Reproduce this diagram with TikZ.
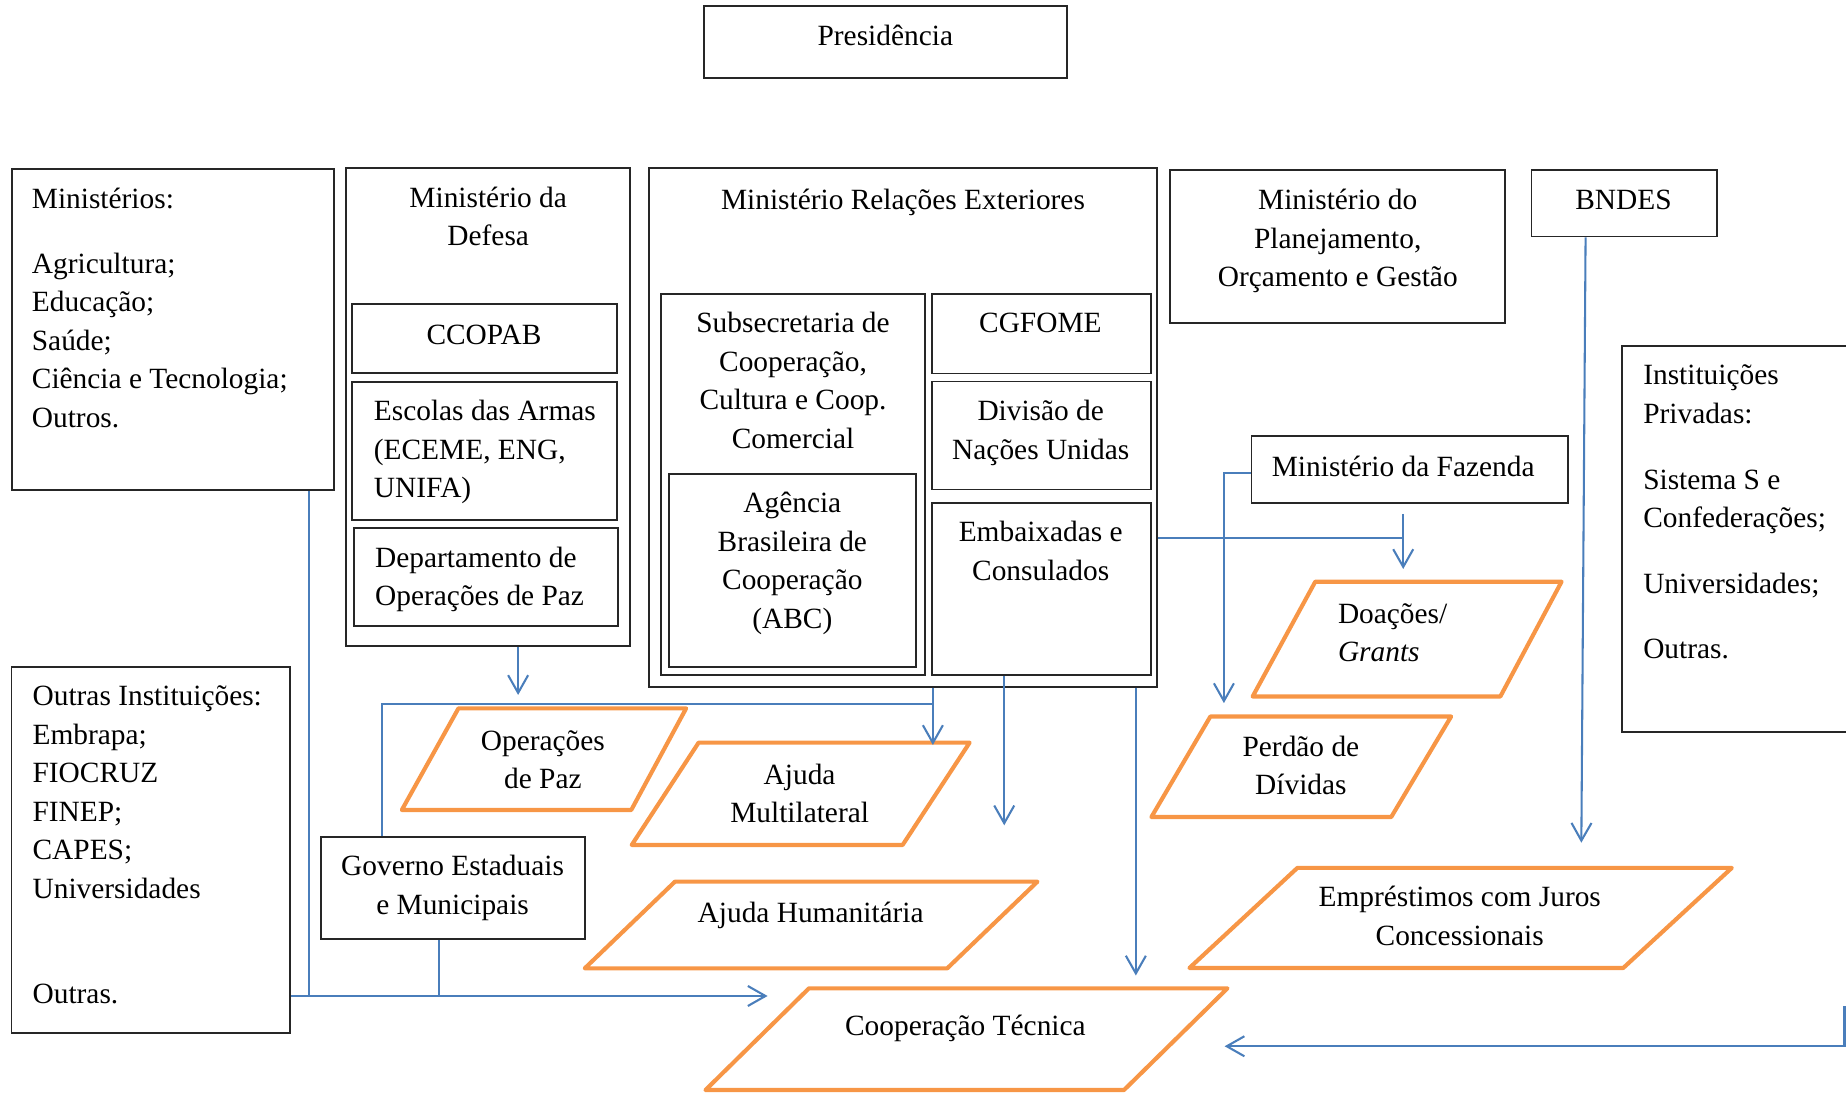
\documentclass[tikz,border=0pt]{standalone}
\usepackage{fontspec}
\setmainfont{Liberation Serif}
\usetikzlibrary{arrows.meta,fit}
\definecolor{lnblue}{HTML}{4A7EBB}
\definecolor{orng}{HTML}{F79646}
\newcommand{\tcen}[1]{\begin{tabular}[t]{@{}c@{}}#1\end{tabular}}
\newcommand{\tlft}[1]{\begin{tabular}[t]{@{}l@{}}#1\end{tabular}}
\begin{document}
\begin{tikzpicture}[x=0.1mm,y=-0.1mm,
  box/.style={draw=black!85, line width=0.45pt, inner sep=0pt},
  conn/.style={draw=lnblue, line width=0.5pt},
  arr/.style={conn, -{Straight Barb[length=1.5mm,width=1.7mm]}},
  pgram/.style={draw=orng, line width=1pt, line join=round},
  tc/.style={anchor=base, inner sep=0pt, yshift=-0.2mm, font=\fontsize{7.1}{9.3}\selectfont},
  tl/.style={tc, anchor=base west}]
\useasboundingbox (0,0) rectangle (1568,929);
\clip (0,0) rectangle (1568,929);

% ---------- boxes ----------
\node[box, fit={(598,5) (906,66)}] (pres) {};
\node[box, fit={(9.9,143.8) (284,416.2)}] (min) {};
\node[box, fit={(294,143) (535,549)}] (def) {};
\node[box, fit={(299.3,258) (524,317)}] (ccopab) {};
\node[box, fit={(299.3,324.6) (524,441.7)}] (esc) {};
\node[box, fit={(300.4,448.6) (524.7,531.4)}] (dep) {};
\node[box, fit={(551.3,142.9) (982.7,583.2)}] (mre) {};
\node[box, fit={(561.8,249.6) (785.7,573.4)}] (sub) {};
\node[box, fit={(567.9,402.4) (777.8,566.9)}] (abc) {};
\node[box, fit={(791.5,249.6) (977.4,317.2)}] (cgf) {};
\node[box, fit={(791.5,324) (977.4,415.8)}] (dnu) {};
\node[box, fit={(791.5,427.4) (977.4,573.4)}] (emb) {};
\node[box, fit={(993.8,144.3) (1278.4,274.4)}] (plan) {};
\node[box, fit={(1300.8,144.3) (1458.4,200.9)}] (bndes) {};
\node[box, fit={(1378,293.9) (1620,621.5)}] (ipriv) {};
\node[box, fit={(1063,370.6) (1331.6,427.2)}] (faz) {};
\node[box, fit={(9.8,566.8) (246.4,877.7)}] (outras) {};
\node[box, fit={(272.4,710.7) (496.7,797.6)}] (gov) {};

% ---------- box texts ----------
\node[tc] (presT) at (752,37) {Presidência};
\node[tl] (minT) at (26.4,175.5) {\tlft{Ministérios:\\[2.2mm] Agricultura;\\ Educação;\\ Saúde;\\ Ciência e Tecnologia;\\ Outros.}};
\node[tc] (defT) at (414.7,174.1) {\tcen{Ministério da\\ Defesa}};
\node[tc] (ccopabT) at (411.1,290.2) {CCOPAB};
\node[tl] (escT) at (316.9,355.3) {\tlft{Escolas das Armas\\ (ECEME, ENG,\\ UNIFA)}};
\node[tl] (depT) at (318,479.9) {\tlft{Departamento de\\ Operações de Paz}};
\node[tc] (mreT) at (767,175.7) {Ministério Relações Exteriores};
\node[tc] (subT) at (673.6,280.8) {\tcen{Subsecretaria de\\ Cooperação,\\ Cultura e Coop.\\ Comercial}};
\node[tc] (abcT) at (673,433.7) {\tcen{Agência\\ Brasileira de\\ Cooperação\\ (ABC)}};
\node[tc] (cgfT) at (883.7,280.8) {CGFOME};
\node[tc] (dnuT) at (884,355.3) {\tcen{Divisão de\\ Nações Unidas}};
\node[tc] (embT) at (884,458) {\tcen{Embaixadas e\\ Consulados}};
\node[tc] (planT) at (1136.3,176.2) {\tcen{Ministério do\\ Planejamento,\\ Orçamento e Gestão}};
\node[tc] (bndesT) at (1379,176.2) {BNDES};
\node[tl] (iprivT) at (1395.1,325) {\tlft{Instituições\\ Privadas:\\[2.3mm] Sistema S e\\ Confederações;\\[2.3mm] Universidades;\\[2.3mm] Outras.}};
\node[tc] (fazT) at (1191.9,403) {Ministério da Fazenda};
\node[tl] (outrasT) at (27,597.4) {\tlft{Outras Instituições:\\ Embrapa;\\ FIOCRUZ\\ FINEP;\\ CAPES;\\ Universidades\\[5.7mm] Outras.}};
\node[tc] (govT) at (384.4,741.8) {\tcen{Governo Estaduais\\ e Municipais}};

% ---------- parallelograms ----------
\draw[pgram] (389.4,601.7) -- (582.8,601.7) -- (536.2,688) -- (341.3,688) -- cycle;
\node[tc] (opazT) at (461.1,635.1) {\tcen{Operações\\ de Paz}};
\draw[pgram] (593.4,630.8) -- (823.6,630.8) -- (766.7,717.7) -- (536.6,717.7) -- cycle;
\node[tc] (multT) at (679.2,664) {\tcen{Ajuda\\ Multilateral}};
\draw[pgram] (573.3,748.9) -- (881.2,748.9) -- (804.6,822.5) -- (496.7,822.5) -- cycle;
\node[tc] (humT) at (688.6,781.4) {Ajuda Humanitária};
\draw[pgram] (687.1,839.5) -- (1042.6,839.5) -- (954.7,925.9) -- (599.2,925.9) -- cycle;
\node[tc] (coopT) at (820,877.7) {Cooperação Técnica};
\draw[pgram] (1117.2,494.1) -- (1326.4,494.1) -- (1274.4,591.6) -- (1064,591.6) -- cycle;
\node[tl] (doaT) at (1135.8,527.2) {\tlft{Doações/\\ \textit{Grants}}};
\draw[pgram] (1028.1,608.6) -- (1232.6,608.6) -- (1181.7,694) -- (978,694) -- cycle;
\node[tc] (perT) at (1105,640.5) {\tcen{Perdão de\\ Dívidas}};
\draw[pgram] (1102,737.2) -- (1471,737.2) -- (1378.8,822.2) -- (1010.3,822.2) -- cycle;
\node[tc] (empT) at (1239.9,768.4) {\tcen{Empréstimos com Juros\\ Concessionais}};

% ---------- helper coordinates ----------
\coordinate (yBot) at (0,846);
\coordinate (tipCoopL) at (652,846);
\coordinate (xMin) at (262.3,0);
\coordinate (xGov) at (373.2,0);
\coordinate (xGovL) at (324.4,0);
\coordinate (tipDef) at (440.1,590.3);
\coordinate (xDef) at (440.1,0);
\coordinate (jn) at (792.4,598.2);
\coordinate (tipMult) at (792.4,632.8);
\coordinate (xEmb) at (853,0);
\coordinate (tipEmb) at (853,701);
\coordinate (xMre2) at (964.8,0);
\coordinate (tipCoopT) at (964.8,828.6);
\coordinate (yDoa) at (0,456.6);
\coordinate (jDoa) at (1191.9,456.6);
\coordinate (xFaz) at (1191.9,0);
\coordinate (tipDoa) at (1191.9,483.3);
\coordinate (yFazL) at (0,402.1);
\coordinate (tipPer) at (1039.6,597.2);
\coordinate (xBnd) at (1346.8,0);
\coordinate (tipEmp) at (1343.2,715.8);
\coordinate (ipEnd) at (1566.7,854.9);
\coordinate (tipCoopR) at (1040.2,888.7);

% ---------- connectors ----------
\draw[arr] (outras.east |- yBot) -- (tipCoopL);
\draw[conn] (min.south -| xMin) -- (xMin |- yBot);
\draw[conn] (gov.south -| xGov) -- (xGov |- yBot);
\draw[arr] (def.south -| xDef) -- (tipDef);
\draw[arr] (mre.south -| jn) -- (tipMult);
\draw[conn] (jn) -| (gov.north -| xGovL);
\draw[arr] (emb.south -| xEmb) -- (tipEmb);
\draw[arr] (mre.south -| xMre2) -- (tipCoopT);
\draw[conn] (mre.east |- yDoa) -- (jDoa);
\draw[arr, shorten <=0.84mm] (faz.south -| xFaz) -- (tipDoa);
\draw[arr] (faz.west |- yFazL) -| (tipPer);
\draw[arr] (bndes.south -| xBnd) -- (tipEmp);
\draw[arr] (ipEnd) |- (tipCoopR);
\end{tikzpicture}
\end{document}
